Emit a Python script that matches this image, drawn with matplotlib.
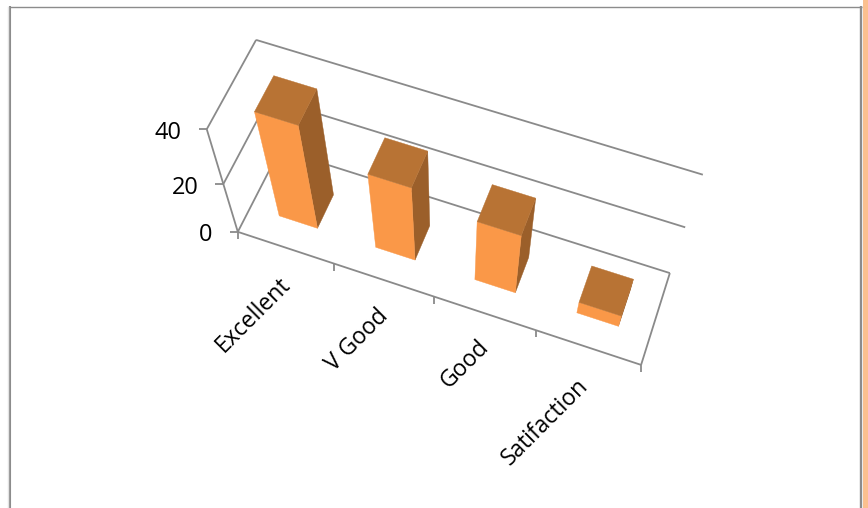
import numpy as np
import matplotlib
matplotlib.use("Agg")
import matplotlib.pyplot as plt
from matplotlib.patches import Polygon, Rectangle

categories = ["Excellent", "V Good", "Good", "Satifaction"]
values = [40, 30, 25, 5]
value_ticks = [0, 20, 40]
value_tick_labels = ["0", "20", "40"]

plt.rcParams['font.family'] = ['Open Sans', 'DejaVu Sans']
W_PX, H_PX = 868, 508
fig = plt.figure(figsize=(W_PX / 100, H_PX / 100), dpi=100)
ax = fig.add_axes([0, 0, 1, 1])
ax.set_xlim(0, W_PX)
ax.set_ylim(H_PX, 0)
ax.axis("off")

# Camera: category position x, depth y, value z mapped onto the picture
ZMAX = max(value_ticks)
calib = [(0, 0, 0, 238, 232), (0, 0, 40, 207, 129), (0, 1, 40, 256, 40), (4, 1, 40, 703, 175),
         (4, 1, 20, 685, 227), (4, 1, 0, 670, 273), (4, 0, 0, 641, 365), (0, 0, 20, 223, 184)]
rows = []
for x, y, z, u, v in calib:
    z = z / ZMAX
    rows.append([x, y, z, 1, 0, 0, 0, 0, -u * x, -u * y, -u * z, -u])
    rows.append([0, 0, 0, 0, x, y, z, 1, -v * x, -v * y, -v * z, -v])
P = np.linalg.svd(np.array(rows, float))[2][-1].reshape(3, 4)


def proj(x, y, z):
    p = P @ np.array([x, y, z / ZMAX, 1.0])
    return p[0] / p[2], p[1] / p[2]


LINE = "#8a8a8a"
n = len(categories)


def seg(a, b, lw=1.3, color=LINE):
    ax.plot([a[0], b[0]], [a[1], b[1]], color=color, lw=lw, solid_capstyle="butt", zorder=1)


# Walls and floor
for t in value_ticks:
    seg(proj(0, 0, t), proj(0, 1, t))
    seg(proj(0, 1, t), proj(n, 1, t))
seg(proj(0, 0, 0), proj(0, 0, ZMAX))
seg(proj(0, 0, 0), proj(n, 0, 0))
seg(proj(n, 0, 0), proj(n, 1, 0))

# Ticks
for t, lab in zip(value_ticks, value_tick_labels):
    u, v = proj(0, 0, t)
    seg((u - 8, v), (u, v))
    ax.text(u - 25, v + 3.5, lab, ha="right", va="center", fontsize=17, color="black")
for i in range(n + 1):
    u, v = proj(i, 0, 0)
    seg((u, v), (u, v + 7))
label_offsets = [(1.5, 34), (0.5, 33), (0.5, 30), (-3.5, 35)]
for i, lab in enumerate(categories):
    u, v = proj(i + 0.5, 0, 0)
    du, dv = label_offsets[i]
    ax.text(u + du, v + dv, lab, rotation=45, ha="right", va="center", rotation_mode="anchor",
            fontsize=16.5, color="black")

# Bars
FRONT, TOP, SIDE = "#FA9848", "#B87334", "#9B5F2A"
x_lo, x_hi, y_lo, y_hi = 0.3, 0.7, 0.3, 0.7
for i in range(n - 1, -1, -1):
    h = values[i]
    a, b = i + x_lo, i + x_hi
    side = [proj(b, y_lo, 0), proj(b, y_hi, 0), proj(b, y_hi, h), proj(b, y_lo, h)]
    front = [proj(a, y_lo, 0), proj(b, y_lo, 0), proj(b, y_lo, h), proj(a, y_lo, h)]
    top = [proj(a, y_lo, h), proj(b, y_lo, h), proj(b, y_hi, h), proj(a, y_hi, h)]
    for poly, col in ((side, SIDE), (front, FRONT), (top, TOP)):
        ax.add_patch(Polygon(poly, closed=True, facecolor=col, edgecolor=col, lw=0.3, zorder=2 + (n - i)))

# Page frame
ax.plot([10, 10], [H_PX, 6], color="#8c8c8c", lw=1.5, solid_capstyle="butt", zorder=0)
ax.plot([860.7, 860.7], [H_PX, 6], color="#8c8c8c", lw=1.7, solid_capstyle="butt", zorder=0)
ax.plot([9, 862], [6.5, 6.5], color="#8c8c8c", lw=1.0, solid_capstyle="butt", zorder=0)
ax.plot([8, 8], [H_PX, 7], color="#e4e4e4", lw=1, zorder=0)
ax.add_patch(Rectangle((863, 0), 5, H_PX, facecolor="#FBC08F", edgecolor="none", zorder=0))

fig.savefig("out.png", dpi=100)
